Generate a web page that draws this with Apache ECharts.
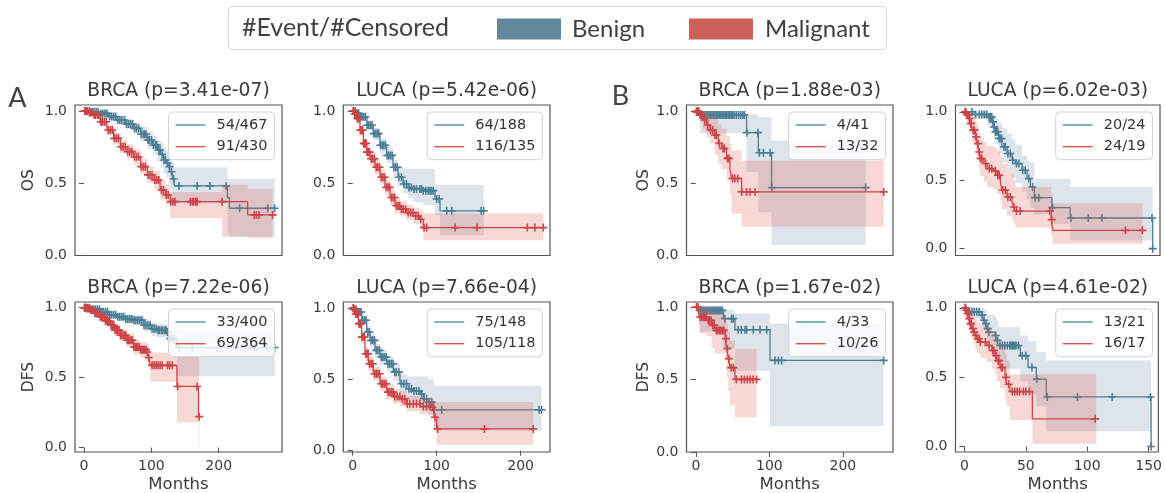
<!DOCTYPE html>
<html>
<head>
<meta charset="utf-8">
<script src="https://cdn.jsdelivr.net/npm/echarts@6/dist/echarts.min.js"></script>
<style>
  html, body { margin: 0; padding: 0; background: #ffffff; }
  #chart { width: 1165px; height: 493px; }
</style>
</head>
<body>
<div id="chart"></div>
<script>
// ---------------------------------------------------------------------------
// Kaplan-Meier estimates: steps are [month, survival], confidence bands are
// [month, lower, upper] (held until the next entry), censor marks are months.
// ---------------------------------------------------------------------------

// A · BRCA · OS
const aBrcaOsBenignKm = [[0,1],[10,0.995],[24,0.984],[36,0.962],[49,0.938],[62,0.91],[74,0.88],[84,0.84],[94,0.80],[102,0.765],[109,0.73],[114,0.70],[118,0.661],[122,0.64],[126,0.615],[128,0.58],[131,0.53],[134,0.482],[213,0.40],[216,0.327],[283,0.327]];
const aBrcaOsBenignCi = [[0,1,1],[10,0.985,1],[24,0.968,0.998],[36,0.94,0.985],[49,0.91,0.965],[62,0.875,0.945],[74,0.84,0.92],[84,0.79,0.89],[94,0.74,0.86],[102,0.70,0.83],[109,0.65,0.80],[114,0.61,0.78],[118,0.57,0.75],[122,0.54,0.73],[126,0.50,0.70],[128,0.46,0.67],[131,0.41,0.64],[134,0.36,0.61],[213,0.15,0.53],[216,0.13,0.53],[283,0.13,0.53]];
const aBrcaOsBenignCensor = [2,5,8,12,15,18,21,25,28,31,34,38,41,44,47,50,53,56,60,63,66,69,72,75,78,81,85,88,90,92,95,97,100,103,106,108,111,113,116,119,121,124,127,130,133,141,168,187,211,231,273,283];
const aBrcaOsMalignantKm = [[0,1],[6,0.99],[14,0.972],[24,0.926],[34,0.869],[44,0.811],[54,0.753],[64,0.719],[74,0.684],[84,0.615],[94,0.558],[104,0.523],[113,0.454],[121,0.419],[128,0.373],[243,0.281],[280,0.281]];
const aBrcaOsMalignantCi = [[0,1,1],[6,0.98,1],[14,0.955,0.99],[24,0.90,0.95],[34,0.835,0.90],[44,0.77,0.85],[54,0.71,0.80],[64,0.67,0.77],[74,0.63,0.735],[84,0.56,0.67],[94,0.50,0.615],[104,0.46,0.585],[113,0.39,0.52],[121,0.35,0.49],[128,0.26,0.44],[205,0.13,0.49],[243,0.12,0.46],[280,0.12,0.46]];
const aBrcaOsMalignantCensor = [1,3,5,8,10,12,15,17,20,22,25,27,30,33,36,39,42,45,48,51,55,58,61,65,68,71,75,78,81,85,88,91,95,98,101,105,108,111,115,118,122,125,129,132,135,158,161,163,166,168,205,253,256,260,280];

// A · LUCA · OS
const aLucaOsBenignKm = [[0,1],[4,0.985],[9,0.96],[17,0.902],[24.5,0.844],[32.5,0.763],[40.5,0.693],[48,0.611],[54,0.542],[60,0.495],[66,0.47],[72,0.46],[84,0.449],[98,0.391],[104,0.309],[156,0.309]];
const aLucaOsBenignCi = [[0,1,1],[4,0.97,1],[9,0.935,0.985],[17,0.87,0.935],[24.5,0.80,0.885],[32.5,0.71,0.81],[40.5,0.64,0.75],[48,0.55,0.66],[54,0.48,0.62],[60,0.43,0.60],[66,0.40,0.60],[72,0.37,0.60],[84,0.35,0.60],[98,0.28,0.49],[104,0.14,0.49],[156,0.14,0.49]];
const aLucaOsBenignCensor = [1,3,5,7,9,11,13,15,17,19,21,23,25,27,29,31,33,35,37,39,41,43,45,47,49,51,53,55,58,61,64,67,70,73,76,80,82,84,87,90,92,94,96,100,103,112,118,153,156];
const aLucaOsMalignantKm = [[0,1],[2,0.98],[4.8,0.949],[8.7,0.867],[12.7,0.775],[16.7,0.716],[20.6,0.67],[26.5,0.611],[32.5,0.542],[38.5,0.472],[44.4,0.402],[50.4,0.344],[56.3,0.321],[64.3,0.297],[72.1,0.274],[80,0.251],[84,0.193],[227,0.193]];
const aLucaOsMalignantCi = [[0,1,1],[2,0.96,1],[4.8,0.925,0.97],[8.7,0.83,0.90],[12.7,0.73,0.81],[16.7,0.67,0.76],[20.6,0.62,0.72],[26.5,0.56,0.665],[32.5,0.49,0.595],[38.5,0.42,0.525],[44.4,0.35,0.455],[50.4,0.29,0.40],[56.3,0.27,0.375],[64.3,0.245,0.35],[72.1,0.22,0.33],[80,0.19,0.31],[84,0.105,0.29],[227,0.105,0.29]];
const aLucaOsMalignantCensor = [0.5,1.5,2.5,3.5,4.5,5.5,6.5,7.5,9,10,11,12,13,14,15,16,17,18,19,20,22,24,26,28,30,32,34,36,38,40,42,44,46,48,50,52,54,56,58,60,63,66,69,72,75,78,81,85,88,122,148,208,217,227];

// A · BRCA · DFS
const aBrcaDfsBenignKm = [[0,1],[10,0.99],[24,0.971],[36,0.95],[49,0.935],[62,0.92],[74,0.911],[89,0.875],[100,0.85],[108,0.839],[123,0.827],[126,0.78],[138,0.715],[283,0.715]];
const aBrcaDfsBenignCi = [[0,1,1],[10,0.98,1],[24,0.955,0.985],[36,0.93,0.97],[49,0.91,0.96],[62,0.89,0.95],[74,0.875,0.945],[89,0.83,0.915],[100,0.80,0.895],[108,0.79,0.885],[123,0.76,0.88],[126,0.68,0.86],[138,0.51,0.84],[283,0.51,0.84]];
const aBrcaDfsBenignCensor = [1,3,5,8,11,14,17,20,23,26,29,32,35,38,41,44,47,50,53,56,59,62,65,68,71,74,77,80,83,86,89,92,95,98,101,104,107,110,112,115,117,120,122,124,128,131,134,141,161,253,257,272,283];
const aBrcaDfsMalignantKm = [[0,1],[3,0.995],[9,0.983],[16,0.96],[24,0.935],[31,0.905],[39,0.875],[46,0.84],[54,0.803],[64,0.767],[74,0.719],[84,0.70],[94,0.683],[96,0.643],[98.5,0.588],[138,0.437],[170,0.221],[171,0.221]];
const aBrcaDfsMalignantCi = [[0,1,1],[3,0.985,1],[9,0.97,0.995],[16,0.94,0.98],[24,0.91,0.96],[31,0.875,0.935],[39,0.84,0.91],[46,0.80,0.88],[54,0.76,0.845],[64,0.72,0.815],[74,0.665,0.77],[84,0.645,0.755],[94,0.62,0.74],[96,0.58,0.71],[98.5,0.47,0.68],[138,0.18,0.65],[170,0.01,0.65],[171,0.01,0.65]];
const aBrcaDfsMalignantCensor = [0.5,2,4,6,8,10,12,14,16,18,20,22,24,26,28,30,32,34,36,38,40,42,44,46,48,50,52,54,56,58,60,62,64,66,68,70,72,74,76,78,80,82,84,86,88,90,92,94,96,101,104,107,110,113,116,124,127,131,139,168,171];

// A · LUCA · DFS
const aLucaDfsBenignKm = [[0,1],[2,0.99],[4.8,0.972],[10.7,0.914],[16.7,0.832],[20.6,0.773],[26.5,0.703],[32.5,0.656],[40.5,0.609],[48.3,0.55],[56.3,0.469],[64.3,0.433],[72.1,0.417],[80.1,0.398],[84,0.363],[90,0.34],[96.8,0.286],[225,0.286]];
const aLucaDfsBenignCi = [[0,1,1],[2,0.975,1],[4.8,0.95,0.99],[10.7,0.88,0.945],[16.7,0.79,0.87],[20.6,0.73,0.815],[26.5,0.655,0.75],[32.5,0.60,0.705],[40.5,0.55,0.66],[48.3,0.49,0.61],[56.3,0.40,0.535],[64.3,0.36,0.52],[72.1,0.34,0.52],[80.1,0.32,0.52],[84,0.28,0.52],[90,0.25,0.50],[96.8,0.14,0.455],[225,0.14,0.455]];
const aLucaDfsBenignCensor = [1,2.5,4,5.5,7,8.5,10,12,14,16,18,20,22,24,26,28,30,32,34,36,38,40,42,44,46,48,50,52,55,58,61,64,67,70,73,76,79,82,85,88,91,94,97,106,222,225];
const aLucaDfsMalignantKm = [[0,1],[1,0.99],[2.7,0.96],[6.7,0.89],[10.7,0.796],[14.6,0.679],[18.6,0.609],[24.5,0.539],[32.5,0.469],[40.5,0.41],[48.3,0.379],[56.3,0.363],[64.3,0.328],[80.1,0.309],[94,0.304],[96.8,0.234],[100,0.152],[215,0.152]];
const aLucaDfsMalignantCi = [[0,1,1],[1,0.975,1],[2.7,0.935,0.98],[6.7,0.855,0.92],[10.7,0.75,0.835],[14.6,0.63,0.725],[18.6,0.56,0.66],[24.5,0.49,0.59],[32.5,0.42,0.52],[40.5,0.36,0.465],[48.3,0.33,0.435],[56.3,0.31,0.42],[64.3,0.275,0.385],[80.1,0.255,0.37],[94,0.25,0.365],[96.8,0.16,0.34],[100,0.04,0.34],[215,0.04,0.34]];
const aLucaDfsMalignantCensor = [0.5,1.5,2.5,3.5,4.5,5.5,6.5,7.5,8.5,9.5,11,12.5,14,15.5,17,18.5,20,22,24,26,28,30,32,34,36,38,40,42,44,46,48,50,53,56,59,62,65,68,72,76,80,84,88,92,95,98,101,157,215];

// B · BRCA · OS
const bBrcaOsBenignKm = [[0,1],[5.5,0.976],[69,0.854],[85,0.714],[103,0.472],[231,0.472]];
const bBrcaOsBenignCi = [[0,1,1],[5.5,0.85,1],[69,0.58,0.98],[85,0.30,0.96],[103,0.075,0.80],[231,0.075,0.80]];
const bBrcaOsBenignCensor = [1,2,4,6,8,10,12,14,16,18,20,22,24,26,28,30,32,34,36,38,40,42,44,46,48,50,52,55,58,61,64,66,69.5,84.5,86.5,92,101,103.5,231];
const bBrcaOsMalignantKm = [[0,1],[5.5,0.977],[10,0.942],[14.5,0.907],[19.1,0.872],[25.9,0.837],[30.5,0.779],[35,0.744],[41.8,0.675],[46.4,0.605],[48.6,0.535],[62.3,0.442],[255.5,0.442]];
const bBrcaOsMalignantCi = [[0,1,1],[5.5,0.93,1],[10,0.87,1],[14.5,0.82,0.99],[19.1,0.78,0.97],[25.9,0.70,0.95],[30.5,0.64,0.91],[35,0.60,0.88],[41.8,0.52,0.83],[46.4,0.42,0.78],[48.6,0.29,0.73],[62.3,0.20,0.66],[255.5,0.20,0.66]];
const bBrcaOsMalignantCensor = [1,2,3,4,6,8,12,16,20,23,26,28,32,37,39,43,45,50,53,57,62.5,69,73.6,80.5,255.5];

// B · LUCA · OS
const bLucaOsBenignKm = [[0,1],[6.2,0.981],[18.3,0.963],[22.3,0.927],[23.6,0.89],[25,0.854],[27.6,0.805],[30.3,0.744],[34.4,0.695],[38.4,0.646],[41.1,0.622],[46.5,0.573],[50.5,0.512],[53.2,0.451],[56.4,0.373],[70.6,0.30],[85.4,0.224],[152,0]];
const bLucaOsBenignCi = [[0,1,1],[6.2,0.95,1],[18.3,0.90,1],[22.3,0.85,0.99],[23.6,0.80,0.97],[25,0.76,0.95],[27.6,0.70,0.92],[30.3,0.63,0.88],[34.4,0.57,0.84],[38.4,0.52,0.80],[41.1,0.48,0.76],[46.5,0.42,0.68],[50.5,0.36,0.64],[53.2,0.30,0.63],[56.4,0.25,0.51],[70.6,0.18,0.51],[85.4,0.06,0.45],[152,0.06,0.45]];
const bLucaOsBenignCensor = [1,6,9,12,14,16,18,20,21,22,23,24,25,26,27,28,29,30,32,33,35,37,39,42,44,47,49,52,55,57,60,71,86,100,111,151.5,152];
const bLucaOsMalignantKm = [[0,1],[1,0.988],[2.1,0.976],[3.5,0.951],[4.8,0.915],[6.2,0.866],[8.9,0.817],[10.2,0.768],[11.5,0.707],[12.9,0.659],[15.6,0.622],[18.3,0.585],[23.6,0.568],[26.3,0.537],[29,0.488],[30.3,0.427],[34.4,0.378],[38.4,0.341],[39.7,0.305],[41.1,0.275],[70,0.212],[71.4,0.134],[143.7,0.134]];
const bLucaOsMalignantCi = [[0,1,1],[1,0.96,1],[2.1,0.93,1],[3.5,0.89,1],[4.8,0.84,0.99],[6.2,0.77,0.96],[8.9,0.71,0.93],[10.2,0.65,0.90],[11.5,0.58,0.85],[12.9,0.53,0.81],[15.6,0.49,0.78],[18.3,0.45,0.75],[23.6,0.43,0.74],[26.3,0.40,0.71],[29,0.35,0.67],[30.3,0.29,0.62],[34.4,0.24,0.57],[38.4,0.21,0.54],[39.7,0.18,0.50],[41.1,0.155,0.45],[70,0.10,0.40],[71.4,0.035,0.33],[143.7,0.035,0.33]];
const bLucaOsMalignantCensor = [0.5,1.5,2.5,3,4,5,5.5,7,8,9.5,11,12,13,14,17,20,22,25,27,28,31,33,35,37,40,42,45,69,70.5,130,143.7];

// B · BRCA · DFS
const bBrcaDfsBenignKm = [[0,1],[5,0.977],[37.3,0.92],[53.2,0.844],[100.9,0.632],[255.5,0.632]];
const bBrcaDfsBenignCi = [[0,1,1],[5,0.83,1],[37.3,0.71,0.98],[53.2,0.56,0.955],[100.9,0.18,0.885],[255.5,0.18,0.885]];
const bBrcaDfsBenignCensor = [6,8,10,12,14,16,18,20,22,24,26,28,30,32,34,36,39.5,48.6,50.9,57.7,62,66.8,69.1,78.2,87.3,96.4,107.7,112.3,116.8,255.5];
const bBrcaDfsMalignantKm = [[0,1],[3.2,0.966],[5.5,0.931],[14.5,0.908],[21.4,0.874],[25.9,0.839],[40,0.782],[42,0.713],[44.1,0.644],[46.4,0.582],[53.2,0.501],[82.7,0.501]];
const bBrcaDfsMalignantCi = [[0,1,1],[3.2,0.88,1],[5.5,0.82,1],[14.5,0.80,1],[21.4,0.72,0.98],[25.9,0.68,0.96],[40,0.64,0.93],[42,0.52,0.88],[44.1,0.42,0.83],[46.4,0.32,0.77],[53.2,0.24,0.71],[82.7,0.24,0.71]];
const bBrcaDfsMalignantCensor = [1,3,6,8,10,12,14,17,19,21,23,25,28,30,32,34,36,38,41,43,45,48,51,55,62,66,70,74,78,82.7];

// B · LUCA · DFS
const bLucaDfsBenignKm = [[0,1],[3.5,0.971],[14.2,0.947],[15.6,0.91],[16.9,0.886],[18.3,0.85],[19.6,0.825],[25,0.80],[26.3,0.765],[27.6,0.728],[45.5,0.655],[51.8,0.57],[58.6,0.486],[66.6,0.357],[152,0]];
const bLucaDfsBenignCi = [[0,1,1],[3.5,0.92,1],[14.2,0.89,1],[15.6,0.84,0.99],[16.9,0.81,0.98],[18.3,0.77,0.96],[19.6,0.73,0.95],[25,0.70,0.93],[26.3,0.66,0.91],[27.6,0.56,0.86],[45.5,0.47,0.80],[51.8,0.38,0.76],[58.6,0.29,0.68],[66.6,0.11,0.62],[152,0.11,0.62]];
const bLucaDfsBenignCensor = [1,4,6,8,10,12,14.5,16,17.5,19,20,25.5,27,29,31,33,35,37,38,39,40,41,42,44,47,50,55,59,67.5,92,120.3,151.5,152];
const bLucaDfsMalignantKm = [[0,1],[0.8,0.983],[2.1,0.959],[3.5,0.922],[4.8,0.886],[6.2,0.85],[7.5,0.825],[8.9,0.80],[10.2,0.777],[12.9,0.753],[18.3,0.728],[22.3,0.692],[25,0.655],[26.3,0.619],[29,0.57],[33.1,0.498],[34.4,0.449],[37.1,0.396],[55.3,0.199],[107.4,0.199]];
const bLucaDfsMalignantCi = [[0,1,1],[0.8,0.95,1],[2.1,0.91,1],[3.5,0.86,0.99],[4.8,0.81,0.97],[6.2,0.77,0.95],[7.5,0.74,0.93],[8.9,0.70,0.92],[10.2,0.67,0.90],[12.9,0.64,0.88],[18.3,0.61,0.86],[22.3,0.56,0.83],[25,0.52,0.80],[26.3,0.47,0.77],[29,0.42,0.73],[33.1,0.34,0.67],[34.4,0.29,0.62],[37.1,0.19,0.52],[55.3,0.02,0.52],[107.4,0.02,0.52]];
const bLucaDfsMalignantCensor = [0.5,1.5,2.5,3,4,5,5.5,7,8,9.5,11,12,13,17,20,23,24,26,27.5,28,30,31,34,36,39,41,43,45,48,50,53,106.5];

// Panel labels (row-major: OS row, then DFS row)
const groupNames = ['Benign', 'Malignant'];
const panelTitles = ['BRCA (p=3.41e-07)', 'LUCA (p=5.42e-06)', 'BRCA (p=1.88e-03)', 'LUCA (p=6.02e-03)',
                     'BRCA (p=7.22e-06)', 'LUCA (p=7.66e-04)', 'BRCA (p=1.67e-02)', 'LUCA (p=4.61e-02)'];
const eventCensorLabels = [['54/467','91/430'], ['64/188','116/135'], ['4/41','13/32'], ['20/24','24/19'],
                           ['33/400','69/364'], ['75/148','105/118'], ['4/33','10/26'], ['13/21','16/17']];
const rowEndpoints = ['OS', 'DFS'];
const cohortLetters = ['A', 'B'];
const xTickValues = [[0,100,200], [0,100,200], [0,100,200], [0,50,100,150]];
const yTickValues = [0, 0.5, 1.0];

// ---------------------------------------------------------------------------
// Layout (pixels) and axis windows
// ---------------------------------------------------------------------------
const W = 1165;
const colBox = [[75, 282], [343.3, 550], [686.5, 893], [955.5, 1160]];
const rowBox = [[105, 255.5], [302, 452]];
const xWindow = [[-13.4, 294], [-11.2, 235], [-12.7, 268.2], [-7.25, 157.9]];
const yWindow = [[0, 1.042], [0, 1.042], [0, 1.046], [-0.05, 1.05],
                 [-0.032, 1.041], [-0.01, 1.042], [0, 1.035], [-0.04, 1.042]];

const panelCurves = [
  [[aBrcaOsBenignKm, aBrcaOsBenignCi, aBrcaOsBenignCensor], [aBrcaOsMalignantKm, aBrcaOsMalignantCi, aBrcaOsMalignantCensor]],
  [[aLucaOsBenignKm, aLucaOsBenignCi, aLucaOsBenignCensor], [aLucaOsMalignantKm, aLucaOsMalignantCi, aLucaOsMalignantCensor]],
  [[bBrcaOsBenignKm, bBrcaOsBenignCi, bBrcaOsBenignCensor], [bBrcaOsMalignantKm, bBrcaOsMalignantCi, bBrcaOsMalignantCensor]],
  [[bLucaOsBenignKm, bLucaOsBenignCi, bLucaOsBenignCensor], [bLucaOsMalignantKm, bLucaOsMalignantCi, bLucaOsMalignantCensor]],
  [[aBrcaDfsBenignKm, aBrcaDfsBenignCi, aBrcaDfsBenignCensor], [aBrcaDfsMalignantKm, aBrcaDfsMalignantCi, aBrcaDfsMalignantCensor]],
  [[aLucaDfsBenignKm, aLucaDfsBenignCi, aLucaDfsBenignCensor], [aLucaDfsMalignantKm, aLucaDfsMalignantCi, aLucaDfsMalignantCensor]],
  [[bBrcaDfsBenignKm, bBrcaDfsBenignCi, bBrcaDfsBenignCensor], [bBrcaDfsMalignantKm, bBrcaDfsMalignantCi, bBrcaDfsMalignantCensor]],
  [[bLucaDfsBenignKm, bLucaDfsBenignCi, bLucaDfsBenignCensor], [bLucaDfsMalignantKm, bLucaDfsMalignantCi, bLucaDfsMalignantCensor]]
];

const lineColors = ['#4a7e95', '#cc4447'];
const keyLineColors = ['#5a8ca2', '#d9534f'];
const bandColors = ['rgba(80,110,150,0.19)', 'rgba(220,90,80,0.24)'];
const patchColors = ['#62889c', '#cd625d'];
const FONT = 'DejaVu Sans';
const INK = '#3a3a3a';
const FRAME = '#555555';
const PLUS = 'path://M4,0H6V4H10V6H6V10H4V6H0V4H4Z';

// survival value of a step function at month t
function kmAt(steps, t) {
  let s = steps[0][1];
  for (const [ti, si] of steps) { if (ti <= t) s = si; else break; }
  return s;
}

// confidence band drawn as one stepped polygon
function bandSeries(band, color, idx, z) {
  return {
    type: 'custom', xAxisIndex: idx, yAxisIndex: idx, silent: true, z: z,
    data: [[band[0][0], band[0][1]]],
    renderItem: function (params, api) {
      const upper = [], lower = [];
      for (let i = 0; i < band.length - 1; i++) {
        const t0 = band[i][0], t1 = band[i + 1][0];
        upper.push(api.coord([t0, band[i][2]]), api.coord([t1, band[i][2]]));
        lower.push(api.coord([t0, band[i][1]]), api.coord([t1, band[i][1]]));
      }
      return { type: 'polygon', shape: { points: upper.concat(lower.reverse()) }, style: { fill: color } };
    }
  };
}

const grids = [], xAxes = [], yAxes = [], series = [], legends = [], graphics = [];

for (let p = 0; p < 8; p++) {
  const r = Math.floor(p / 4), c = p % 4;
  const [gl, gr] = colBox[c], [gt, gb] = rowBox[r];
  grids.push({ left: gl, top: gt, width: gr - gl, height: gb - gt, show: true,
               borderColor: FRAME, borderWidth: 1.2, backgroundColor: 'transparent' });
  const isBottom = r === 1;
  xAxes.push({
    gridIndex: p, type: 'value', min: xWindow[c][0], max: xWindow[c][1],
    axisLine: { show: false }, splitLine: { show: false },
    axisTick: { show: isBottom, length: 5, lineStyle: { color: FRAME, width: 1.1 }, customValues: xTickValues[c] },
    axisLabel: { show: isBottom, customValues: xTickValues[c], margin: 7,
                 fontFamily: FONT, fontSize: 14, color: INK }
  });
  yAxes.push({
    gridIndex: p, type: 'value', min: yWindow[p][0], max: yWindow[p][1],
    axisLine: { show: false }, splitLine: { show: false },
    axisTick: { show: true, length: 5, lineStyle: { color: FRAME, width: 1.1 }, customValues: yTickValues },
    axisLabel: { customValues: yTickValues, margin: 8, fontFamily: FONT, fontSize: 14, color: INK,
                 formatter: v => v.toFixed(1) }
  });

  panelCurves[p].forEach((curve, g) => {
    const [km, ci, cens] = curve;
    const zBase = g * 3 + 1;
    series.push(bandSeries(ci, bandColors[g], p, zBase));
    series.push({
      type: 'line', name: eventCensorLabels[p][g], xAxisIndex: p, yAxisIndex: p,
      data: km, step: 'end', symbol: 'none', showSymbol: false, z: zBase + 1,
      lineStyle: { color: lineColors[g], width: 1.3 }, itemStyle: { color: lineColors[g] },
      emphasis: { disabled: true }
    });
    series.push({
      type: 'scatter', xAxisIndex: p, yAxisIndex: p, silent: true, z: zBase + 2,
      data: cens.map(t => [t, kmAt(km, t)]),
      symbol: PLUS, symbolSize: 8, itemStyle: { color: lineColors[g], opacity: 1 }
    });
  });

  legends.push({
    orient: 'vertical', right: W - (gr - 7.5), top: gt + 7, z: 10,
    data: eventCensorLabels[p].map((name, g) => ({ name: name, icon: 'rect', itemStyle: { color: keyLineColors[g] } })),
    selectedMode: false,
    itemWidth: 30, itemHeight: 1.4, itemGap: 5.7, padding: [5, 7, 5, 7],
    backgroundColor: 'rgba(255,255,255,0.8)', borderColor: '#d3d3d3', borderWidth: 1, borderRadius: 4,
    textStyle: { fontFamily: FONT, fontSize: 14.5, color: '#333', lineHeight: 16, padding: [0, 0, 0, 6] }
  });

  graphics.push({ type: 'text', x: (gl + gr) / 2, y: r === 0 ? 91.5 : 288.5, z: 10,
    style: { text: panelTitles[p], fontFamily: FONT, fontSize: 18.7, fill: INK, align: 'center', verticalAlign: 'middle' } });
  if (c === 0 || c === 2) {
    graphics.push({ type: 'text', x: c === 0 ? 28.5 : 643.5, y: (gt + gb) / 2, rotation: Math.PI / 2, z: 10,
      style: { text: rowEndpoints[r], fontFamily: FONT, fontSize: 15.5, fill: INK, align: 'center', verticalAlign: 'middle' } });
  }
  if (isBottom) {
    graphics.push({ type: 'text', x: (gl + gr) / 2, y: 485, z: 10,
      style: { text: 'Months', fontFamily: FONT, fontSize: 16.5, fill: INK, align: 'center', verticalAlign: 'middle' } });
  }
}

// cohort letters
graphics.push({ type: 'text', x: 17.5, y: 98.5, style: { text: cohortLetters[0], fontFamily: 'Lato', fontSize: 27, fill: '#444', align: 'center', verticalAlign: 'middle' } });
graphics.push({ type: 'text', x: 620.5, y: 96.5, style: { text: cohortLetters[1], fontFamily: 'Lato', fontSize: 27, fill: '#444', align: 'center', verticalAlign: 'middle' } });

// shared header key
graphics.push({ type: 'rect', shape: { x: 228.5, y: 6.5, width: 658, height: 43, r: 4 },
  style: { fill: '#ffffff', stroke: '#d6d6d6', lineWidth: 1 } });
graphics.push({ type: 'text', x: 242, y: 28, style: { text: '#Event/#Censored', fontFamily: 'Lato', fontSize: 25, fill: '#404040', verticalAlign: 'middle' } });
graphics.push({ type: 'rect', shape: { x: 497, y: 18.5, width: 64, height: 21 }, style: { fill: patchColors[0] } });
graphics.push({ type: 'text', x: 572, y: 29, style: { text: groupNames[0], fontFamily: 'Lato', fontSize: 24, fill: '#404040', verticalAlign: 'middle' } });
graphics.push({ type: 'rect', shape: { x: 689, y: 18.5, width: 64, height: 21 }, style: { fill: patchColors[1] } });
graphics.push({ type: 'text', x: 765, y: 29, style: { text: groupNames[1], fontFamily: 'Lato', fontSize: 24, fill: '#404040', verticalAlign: 'middle' } });

const chart = echarts.init(document.getElementById('chart'), null, { renderer: 'canvas' });
chart.setOption({
  animation: false,
  backgroundColor: '#ffffff',
  grid: grids, xAxis: xAxes, yAxis: yAxes,
  legend: legends, series: series, graphic: graphics
});
</script>
</body>
</html>
